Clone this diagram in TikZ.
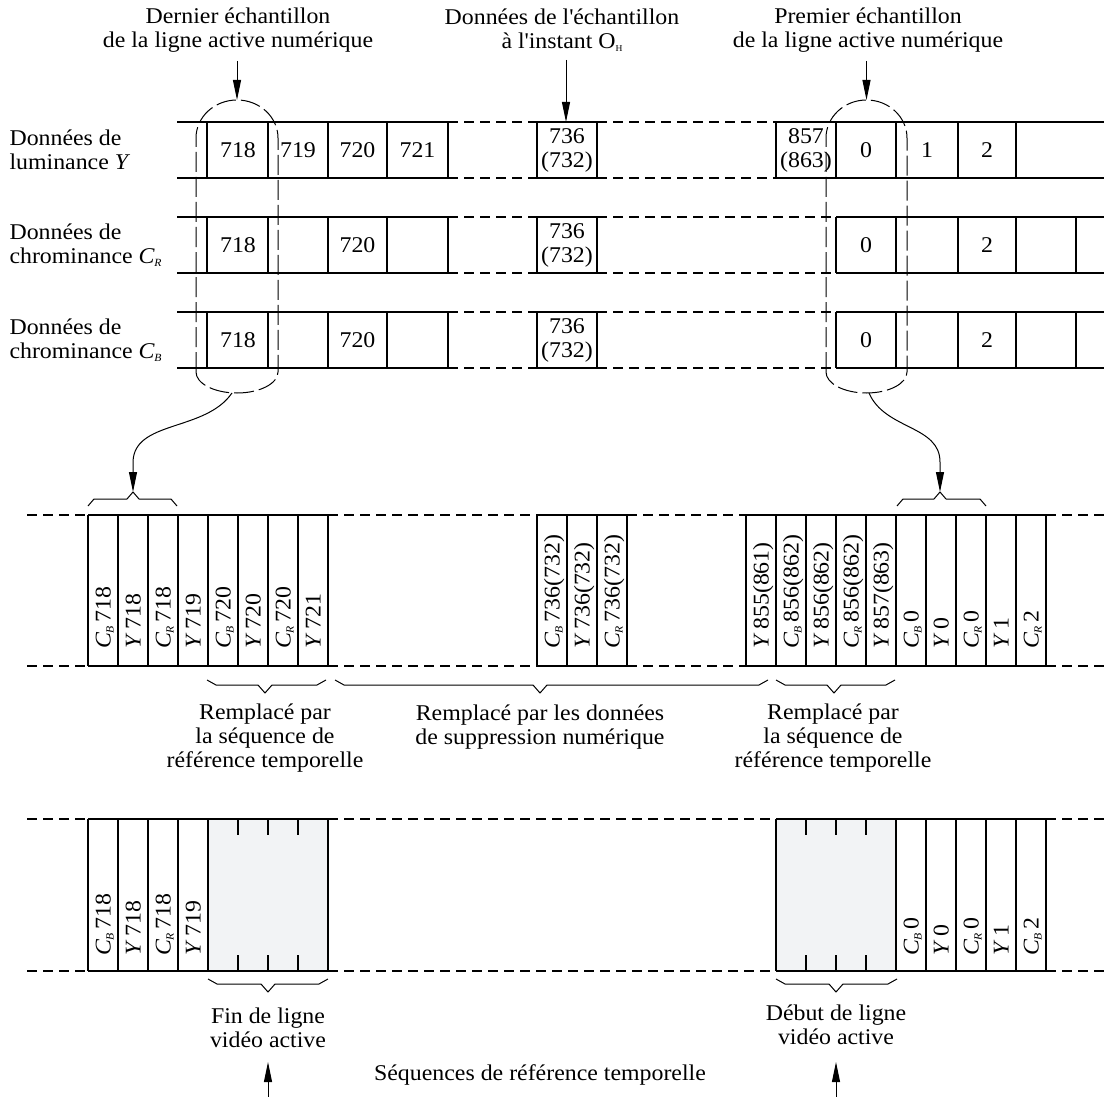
\documentclass[tikz,border=0pt]{standalone}
\usepackage{fontspec}
\setmainfont{Liberation Serif}[FakeStretch=1.06]
\usetikzlibrary{arrows.meta}
\definecolor{grisclair}{RGB}{242,243,245}
\newcommand{\chroma}[1]{\textit{C}\kern-0.5pt\raisebox{-3pt}{\fontsize{11}{11}\selectfont\textit{#1}}}
\newcommand{\lumi}{\textit{Y}}
\begin{document}
\begin{tikzpicture}[x=1pt,y=-1pt,font=\fontsize{22.5}{24}\selectfont,
    trait/.style={line width=2.2pt},
    sep/.style={line width=1.6pt},
    tiret/.style={line width=1.6pt,dash pattern=on 10pt off 6pt},
    bulle/.style={line width=1pt,dash pattern=on 20pt off 5pt},
    accol/.style={line width=1pt,line join=round},
    arr/.style={line width=1pt,-{Triangle[length=20pt,width=8pt]}},
    lab/.style={rotate=90,anchor=west,inner sep=0pt,text height=15pt,text depth=0pt}]
    \useasboundingbox (0,0) rectangle (1104,1097);
    % titres
    \node[align=center](dern)at(238,30){Dernier échantillon\\de la ligne active numérique};
    \node[align=center](inst)at(562,30){Données de l\textquotesingle échantillon\\à l\textquotesingle instant O\raisebox{-3pt}{\fontsize{9}{9}\selectfont H}};
    \node[align=center](prem)at(868,30){Premier échantillon\\de la ligne active numérique};
    \node[anchor=west,align=left](ny)at(6,150){Données de\\luminance \lumi};
    \node[anchor=west,align=left](ncr)at(6,245){Données de\\chrominance \chroma{R}};
    \node[anchor=west,align=left](ncb)at(6,340){Données de\\chrominance \chroma{B}};
    % lignes Y, CR, CB
    \foreach \t/\b in {122/178,217/273,312/368} {
        \draw[trait] (177,\t) -- (448,\t) (177,\b) -- (448,\b);
        \draw[tiret] (448,\t) -- (537,\t) (448,\b) -- (537,\b);
        \draw[trait] (537,\t) rectangle (597,\b);
        \foreach \x in {207,268,328,387,448} \draw[trait] (\x,\t) -- (\x,\b);
    }
    \draw[tiret] (597,122) -- (776,122) (597,178) -- (776,178);
    \draw[trait] (776,122) -- (1104,122) (776,178) -- (1104,178);
    \foreach \x in {776,836,896,958,1016} \draw[trait] (\x,122) -- (\x,178);
    \foreach \t/\b in {217/273,312/368} {
        \draw[tiret] (597,\t) -- (836,\t) (597,\b) -- (836,\b);
        \draw[trait] (836,\t) -- (1104,\t) (836,\b) -- (1104,\b);
        \foreach \x in {836,896,958,1016,1076} \draw[trait] (\x,\t) -- (\x,\b);
    }
    \node(y718)at(238,150){718};
    \node(y719)at(298,150){719};
    \node(y720)at(357.5,150){720};
    \node(y721)at(417.5,150){721};
    \node[align=center,inner sep=0pt](y736)at(567,150){736\\(732)};
    \node[align=center,inner sep=0pt](y857)at(806,150){857\\(863)};
    \node(y0)at(866,150){0};
    \node(y1)at(927,150){1};
    \node(y2)at(987,150){2};
    \foreach \r/\yy in {cr/245,cb/340} {
        \node(\r718)at(238,\yy){718};
        \node(\r720)at(357.5,\yy){720};
        \node[align=center,inner sep=0pt](\r736)at(567,\yy){736\\(732)};
        \node(\r0)at(866,\yy){0};
        \node(\r2)at(987,\yy){2};
    }
    % bulles
    \draw[bulle] (196,372) -- (196,138) arc[start angle=180,end angle=360,x radius=41,y radius=38] -- (278,372) arc[start angle=0,end angle=180,x radius=41,y radius=21] -- cycle;
    \draw[bulle] (826,372) -- (826,138) arc[start angle=180,end angle=360,x radius=40.5,y radius=38] -- (907,372) arc[start angle=0,end angle=180,x radius=40.5,y radius=21] -- cycle;
    \coordinate(hg)at(237,100);
    \coordinate(hm)at(566,122);
    \coordinate(hd)at(866.5,100);
    \draw[arr] (dern.south -| hg) ++(0,5) -- (hg);
    \draw[arr] (inst.south -| hm) ++(0,5) -- (hm);
    \draw[arr] (prem.south -| hd) ++(0,5) -- (hd);
    \coordinate(bg)at(232,393);
    \coordinate(bd)at(869,393);
    \coordinate(ag)at(133,492);
    \coordinate(ad)at(940,492);
    \draw[arr] (bg) .. controls (205,432) and (134,420) .. (133,462) -- (ag);
    \draw[arr] (bd) .. controls (885,430) and (940,425) .. (940,462) -- (ad);
    \foreach \a/\c/\b in {88/133/177,897/940/986}
        \draw[accol] (\a,506) -- (\a+6,499) -- (\c-6,499) -- (\c,492) -- (\c+6,499) -- (\b-6,499) -- (\b,506);
    % ligne multiplexee
    \foreach \u/\v in {27/88,328/537,627/746,1046/1104} \draw[tiret] (\u,515) -- (\v,515) (\u,666) -- (\v,666);
    \foreach \u/\v in {88/328,537/627,746/1046} \draw[trait] (\u,515) -- (\v,515) (\u,666) -- (\v,666);
    \foreach \i in {0,...,8} \draw[sep] (88+30*\i,515) -- (88+30*\i,666);
    \foreach \i in {0,...,3} \draw[sep] (537+30*\i,515) -- (537+30*\i,666);
    \foreach \i in {0,...,10} \draw[sep] (746+30*\i,515) -- (746+30*\i,666);
    \foreach \txt [count=\i from 0] in {\chroma{B}\,718,\lumi\,718,\chroma{R}\,718,\lumi\,719,\chroma{B}\,720,\lumi\,720,\chroma{R}\,720,\lumi\,721}
        \node[lab](ma\i)at(103+30*\i,649){\txt};
    \foreach \txt [count=\i from 0] in {\chroma{B}\,736(732),\lumi\,736(732),\chroma{R}\,736(732)}
        \node[lab](mb\i)at(552+30*\i,649){\txt};
    \foreach \txt [count=\i from 0] in {\lumi\,855(861),\chroma{B}\,856(862),\lumi\,856(862),\chroma{R}\,856(862),\lumi\,857(863),\chroma{B}\,0,\lumi\,0,\chroma{R}\,0,\lumi\,1,\chroma{R}\,2}
        \node[lab](mc\i)at(761+30*\i,649){\txt};
    \foreach \a/\c/\b/\y in {207/265/326/680,335/540/768/680,776/834/895/680,208/268/328/979,776/836/897/979}
        \draw[accol] (\a,\y) -- (\a+9,\y+5) -- (\c-7,\y+5) -- (\c,\y+13) -- (\c+7,\y+5) -- (\b-9,\y+5) -- (\b,\y);
    \node[align=center](rg)at(265,738){Remplacé par\\la séquence de\\référence temporelle};
    \node[align=center](rm)at(540,727){Remplacé par les données\\de suppression numérique};
    \node[align=center](rd)at(833,738){Remplacé par\\la séquence de\\référence temporelle};
    % ligne avec SRT
    \fill[grisclair] (208,819) rectangle (328,971);
    \fill[grisclair] (776,819) rectangle (896,971);
    \foreach \u/\v in {27/88,328/776,1046/1104} \draw[tiret] (\u,819) -- (\v,819) (\u,971) -- (\v,971);
    \foreach \u/\v in {88/328,776/1046} \draw[trait] (\u,819) -- (\v,819) (\u,971) -- (\v,971);
    \foreach \x in {88,118,148,178,208,328,776,896,926,956,986,1016,1046} \draw[sep] (\x,819) -- (\x,971);
    \foreach \x in {238,268,298,806,836,866} \draw[sep] (\x,819) -- (\x,835) (\x,971) -- (\x,955);
    \foreach \txt [count=\i from 0] in {\chroma{B}\,718,\lumi\,718,\chroma{R}\,718,\lumi\,719}
        \node[lab](ba\i)at(103+30*\i,956){\txt};
    \foreach \txt [count=\i from 0] in {\chroma{B}\,0,\lumi\,0,\chroma{R}\,0,\lumi\,1,\chroma{B}\,2}
        \node[lab](bb\i)at(911+30*\i,956){\txt};
    \node[align=center](fin)at(268,1028){Fin de ligne\\vidéo active};
    \node[align=center](deb)at(836,1025){Début de ligne\\vidéo active};
    \node(srt)at(540,1075){Séquences de référence temporelle};
    \coordinate(fg)at(268,1097);
    \coordinate(fd)at(836,1097);
    \coordinate(pg)at(268,1062);
    \coordinate(pd)at(836,1062);
    \draw[arr] (fg) -- (pg);
    \draw[arr] (fd) -- (pd);
\end{tikzpicture}
\end{document}
